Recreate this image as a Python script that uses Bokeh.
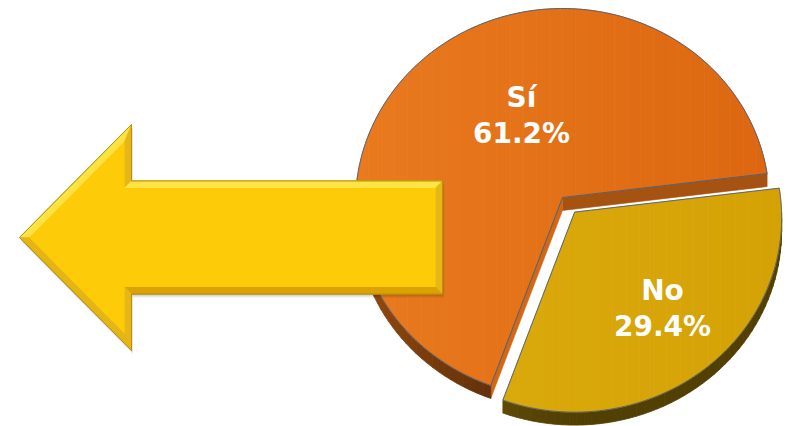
import numpy as np
from bokeh.plotting import figure
from bokeh.models import Range1d, ColumnDataSource
from bokeh.embed import file_html
from bokeh.resources import INLINE
from bokeh.core.properties import value

# ---------------- data ----------------
labels = ["Sí", "No"]
values = [61.2, 29.4]
pct_text = ["61.2%", "29.4%"]

# ---------------- style / layout ----------------
top_left_colors = ["#E97A1E", "#DCAC0E"]
top_right_colors = ["#DC6710", "#D5A206"]
explode = [0.0, 19.0]
label_anchor = [(521, 115), (662, 308)]

CX, CY = 562.0, 202.5      # rim ellipse centre (page px)
RX, RY = 207.0, 194.5      # rim radii
PERSP = 0.0283             # perspective shift of the centre toward the far side
DEPTH = 13.0
FIRST_ANGLE = 7.1          # where the "No" wedge starts (deg, true angle)
OUTLINE = "#4A5F7A"


def hex2rgb(h):
    h = h.lstrip("#")
    return np.array([int(h[i:i + 2], 16) for i in (0, 2, 4)], dtype=float)


def rgb2hex(c):
    c = np.clip(np.round(c), 0, 255).astype(int)
    return "#%02x%02x%02x" % tuple(c)


def shade(h, f):
    return rgb2hex(hex2rgb(h) * f)


def mix(h1, h2, t):
    return rgb2hex(hex2rgb(h1) * (1 - t) + hex2rgb(h2) * t)


p = figure(width=792, height=426, x_range=Range1d(0, 792), y_range=Range1d(426, 0),
           output_backend="svg", toolbar_location=None,
           x_axis_location=None, y_axis_location=None, min_border=0)
p.grid.visible = False
p.outline_line_color = None
p.background_fill_color = "white"
p.border_fill_color = "white"


# ---------------- pie geometry from data ----------------
def proj(x, y):
    """perspective (projective) map of the unit disc, centre pushed to the far side"""
    v = PERSP
    den = 1 + v * y
    xp = x * np.sqrt(1 - v * v) / den
    yp = (y + v) / den
    return xp, yp


def rim(theta, off):
    r = np.radians(theta)
    xp, yp = proj(np.cos(r), np.sin(r))
    return CX + off[0] + RX * xp, CY + off[1] - RY * yp


def screen_angle(theta):
    r = np.radians(theta)
    xp, yp = proj(np.cos(r), np.sin(r))
    return np.degrees(np.arctan2(yp, xp))


def clip_x(poly, x0, x1):
    def clip(pts, keep, inter):
        out = []
        n = len(pts)
        for i in range(n):
            cur, prv = pts[i], pts[i - 1]
            if keep(cur):
                if not keep(prv):
                    out.append(inter(prv, cur))
                out.append(cur)
            elif keep(prv):
                out.append(inter(prv, cur))
        return out

    def ix(xc):
        def f(a, b):
            t = (xc - a[0]) / (b[0] - a[0])
            return (xc, a[1] + t * (b[1] - a[1]))
        return f

    pts = clip(poly, lambda q: q[0] >= x0, ix(x0))
    if not pts:
        return pts
    return clip(pts, lambda q: q[0] <= x1, ix(x1))


vals = np.array(values, dtype=float)
frac = vals / vals.sum()
span = 360.0 * frac
# "Sí" counter-clockwise from FIRST_ANGLE, "No" clockwise from FIRST_ANGLE
ranges = [(FIRST_ANGLE, FIRST_ANGLE + span[0]), (FIRST_ANGLE - span[1], FIRST_ANGLE)]

for i in range(len(values)):
    a, b = ranges[i]
    sa, sb = screen_angle(a), screen_angle(b)
    smid = np.radians(screen_angle((a + b) / 2))
    off = (explode[i] * np.cos(smid), -explode[i] * np.sin(smid))
    _, cyp = proj(0.0, 0.0)
    apex = (CX + off[0], CY + off[1] - RY * cyp)
    base = mix(top_left_colors[i], top_right_colors[i], 0.5)

    # radial faces (visible only when facing viewer)
    fx, fy, fc = [], [], []
    for ang, sang, visible, nang in ((a, sa, np.cos(np.radians(sa)) > 0, sa - 90),
                                     (b, sb, np.cos(np.radians(sb)) < 0, sb + 90)):
        if not visible:
            continue
        px, py = rim(ang, off)
        fx.append([apex[0], px, px, apex[0]])
        fy.append([apex[1], py, py + DEPTH, apex[1] + DEPTH])
        nr = np.radians(nang)
        f = 0.70 + 0.24 * max(0.0, np.cos(nr))
        fc.append(shade(base, f))
    if fx:
        p.patches(xs=fx, ys=fy, fill_color=fc, line_color=fc, line_width=0.6)
        p.multi_line(xs=[[x[0], x[1]] for x in fx], ys=[[y[0], y[1]] for y in fy],
                     line_color=OUTLINE, line_width=0.8)

    # curved outer side
    sx, sy, sc = [], [], []
    for k in (-1, 0, 1):
        lo, hi = max(a, 180 + 360 * k), min(b, 360 + 360 * k)
        if lo >= hi:
            continue
        ts = np.linspace(lo, hi, max(3, int((hi - lo) / 2.0) + 1))
        for t1, t2 in zip(ts[:-1], ts[1:]):
            x1, y1 = rim(t1, off)
            x2, y2 = rim(t2, off)
            sx.append([x1, x2, x2, x1])
            sy.append([y1, y2, y2 + DEPTH, y1 + DEPTH])
            tm = np.radians((t1 + t2) / 2)
            f = 0.38 + 0.30 * max(0.0, -np.cos(tm)) ** 1.5
            sc.append(shade(base, f))
    if sx:
        p.patches(xs=sx, ys=sy, fill_color=sc, line_color=sc, line_width=0.8)

    # top face with a soft left-to-right gradient
    ts = np.linspace(a, b, 240)
    rx_, ry_ = rim(ts, off)
    poly = [apex] + list(zip(rx_, ry_))
    nb = 32
    x_lo, x_hi = CX - RX, CX + RX + explode[i]
    edges = np.linspace(x_lo, x_hi, nb + 1)
    gx, gy, gc = [], [], []
    for j in range(nb):
        piece = clip_x(poly, edges[j], edges[j + 1])
        if len(piece) < 3:
            continue
        gx.append([q[0] for q in piece])
        gy.append([q[1] for q in piece])
        gc.append(mix(top_left_colors[i], top_right_colors[i], (j + 0.5) / nb))
    p.patches(xs=gx, ys=gy, fill_color=gc, line_color=gc, line_width=0.7)
    p.patch(x=[q[0] for q in poly], y=[q[1] for q in poly], fill_color=None,
            line_color=OUTLINE, line_width=0.9)

# ---------------- arrow (decoration) ----------------
ARROW_TIP_X, ARROW_HEAD_X, ARROW_END_X = 19.0, 131.0, 442.0
ARROW_CY, HEAD_HALF, SHAFT_HALF = 237.0, 113.0, 56.5
BEVEL = 7.0

arrow = np.array([
    (ARROW_TIP_X, ARROW_CY),
    (ARROW_HEAD_X, ARROW_CY - HEAD_HALF),
    (ARROW_HEAD_X, ARROW_CY - SHAFT_HALF),
    (ARROW_END_X, ARROW_CY - SHAFT_HALF),
    (ARROW_END_X, ARROW_CY + SHAFT_HALF),
    (ARROW_HEAD_X, ARROW_CY + SHAFT_HALF),
    (ARROW_HEAD_X, ARROW_CY + HEAD_HALF),
])


def inset(poly, d):
    n = len(poly)
    area = sum(poly[i][0] * poly[(i + 1) % n][1] - poly[(i + 1) % n][0] * poly[i][1] for i in range(n))
    sgn = 1.0 if area > 0 else -1.0
    lines = []
    for i in range(n):
        p0, p1 = poly[i], poly[(i + 1) % n]
        dvec = (p1 - p0) / np.linalg.norm(p1 - p0)
        nrm = sgn * np.array([-dvec[1], dvec[0]])
        lines.append((p0 + nrm * d, dvec, nrm))
    out = []
    for i in range(n):
        (q1, d1, _), (q2, d2, _) = lines[i - 1], lines[i]
        A = np.array([d1, -d2]).T
        s = np.linalg.solve(A, q2 - q1)
        out.append(q1 + d1 * s[0])
    return np.array(out), [l[2] for l in lines]


inner, inward = inset(arrow, BEVEL)

# soft shadow
for k, al in ((4, 0.04), (3, 0.06), (1.8, 0.08)):
    p.patch(x=arrow[:, 0] + k * 0.4, y=arrow[:, 1] + k, fill_color="black", fill_alpha=al, line_color=None)

p.patch(x=arrow[:, 0], y=arrow[:, 1], fill_color="#FECB08", line_color="#B8900A", line_width=1.0)

light = np.array([-0.35, -0.94])
bx, by, bc = [], [], []
n = len(arrow)
for i in range(n):
    j = (i + 1) % n
    bx.append([arrow[i][0], arrow[j][0], inner[j][0], inner[i][0]])
    by.append([arrow[i][1], arrow[j][1], inner[j][1], inner[i][1]])
    s = float(np.dot(-inward[i], light))
    t = (s + 1) / 2
    bc.append(mix("#D9A000", "#FFE646", t))
p.patches(xs=bx, ys=by, fill_color=bc, line_color=bc, line_width=0.5)
p.patch(x=inner[:, 0], y=inner[:, 1], fill_color="#FECB08", line_color=None)
p.patch(x=arrow[:, 0], y=arrow[:, 1], fill_color=None, line_color="#B8900A", line_width=1.0)

# ---------------- labels ----------------
lx, ly, lt = [], [], []
for i in range(len(labels)):
    ax_, ay_ = label_anchor[i]
    lx += [ax_, ax_]
    ly += [ay_ - 18, ay_ + 18]
    lt += [labels[i], pct_text[i]]
src = ColumnDataSource(dict(x=lx, y=ly, text=lt))
p.text(x="x", y="y", text="text", source=src, text_color="white",
       text_font=value("DejaVu Sans"), text_font_style="bold", text_font_size="28px",
       text_align="center", text_baseline="alphabetic")

open("out.html", "w").write(file_html(p, INLINE))
